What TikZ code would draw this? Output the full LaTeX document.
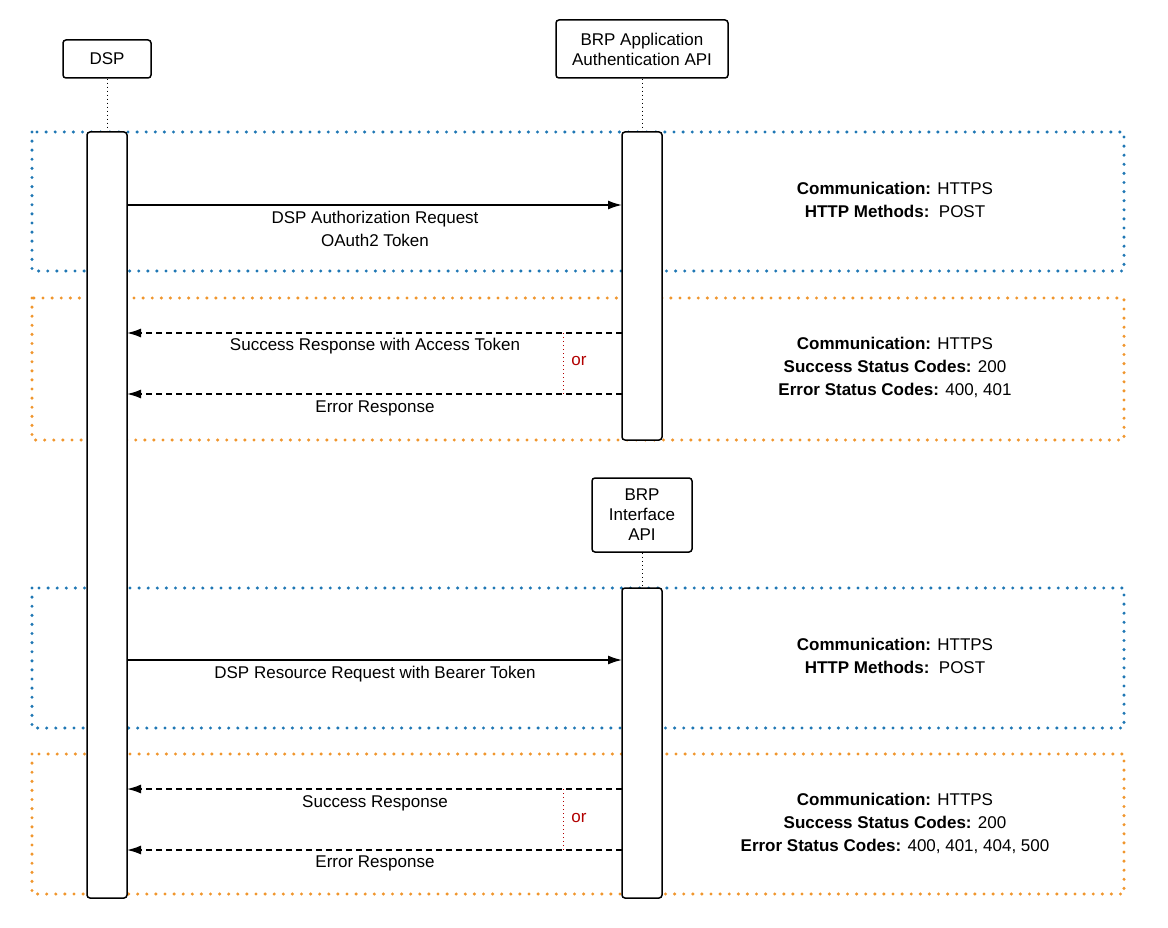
\documentclass[tikz,border=0pt]{standalone}
\usepackage{fontspec}
\setmainfont{Liberation Sans}
\usetikzlibrary{arrows.meta}
\begin{document}
\begin{tikzpicture}[x=1pt,y=-1pt,font=\fontsize{17}{20}\selectfont,
  actor/.style={draw,line width=1.5pt,rounded corners=3pt,align=center,inner sep=0pt},
  bar/.style={draw,line width=1.5pt,rounded corners=3pt,fill=white},
  life/.style={line width=1pt,dash pattern=on 1pt off 3pt},
  frame/.style={line width=3.4pt,line cap=round,dash pattern=on 0pt off 9.1pt},
  msg/.style={line width=1.5pt,-{Latex[length=14pt,width=9pt]}},
  resp/.style={msg,dash pattern=on 6pt off 4pt},
  lbl/.style={inner sep=0pt,align=center},
  ortxt/.style={text=red!70!black,inner sep=0pt},
  orline/.style={red!70!black,line width=0.8pt,dash pattern=on 1pt off 3pt}]
\useasboundingbox (0,0) rectangle (1168,928);
\definecolor{fblue}{HTML}{1F77B4}\definecolor{forange}{HTML}{F0962D}
\draw[frame,fblue] (32,132) rectangle (1124,271);
\draw[frame,forange] (32,298) rectangle (1124,440);
\draw[frame,fblue] (32,588) rectangle (1124,728);
\draw[frame,forange] (32,754) rectangle (1124,894);
\node[actor,minimum width=88pt,minimum height=38pt] (dsp) at (107,59) {DSP};
\node[actor,minimum width=172pt,minimum height=58pt] (auth) at (642,49) {BRP Application\\Authentication API};
\node[actor,minimum width=100pt,minimum height=74pt] (iface) at (642,515) {BRP\\Interface\\API};
\coordinate (dtop) at (107,132);\coordinate (atop) at (642,132);\coordinate (itop) at (642,588);
\draw[life] (dsp.south) -- (dtop);
\draw[life] (auth.south) -- (atop);
\draw[life] (iface.south) -- (itop);
\draw[bar] (87,132) rectangle (127,898);
\draw[bar] (622,132) rectangle (662,440);
\draw[bar] (622,588) rectangle (662,898);
\coordinate (a1) at (127,205);\coordinate (b1) at (622,205);
\draw[msg] (a1) -- (b1);
\node[lbl] at (375,229) {DSP Authorization Request\\[3pt]OAuth2 Token};
\coordinate (a2) at (127,333);\coordinate (b2) at (622,333);
\draw[resp] (b2) -- (a2);
\node[lbl] at (375,346) {Success Response with Access Token};
\coordinate (a3) at (127,394);\coordinate (b3) at (622,394);
\draw[resp] (b3) -- (a3);
\node[lbl] at (375,408) {Error Response};
\coordinate (o1) at (563,333);\coordinate (o2) at (563,394);
\draw[orline] (o1) -- (o2);
\node[ortxt] at (579,361) {or};
\coordinate (a4) at (127,660);\coordinate (b4) at (622,660);
\draw[msg] (a4) -- (b4);
\node[lbl] at (375,674) {DSP Resource Request with Bearer Token};
\coordinate (a5) at (127,789);\coordinate (b5) at (622,789);
\draw[resp] (b5) -- (a5);
\node[lbl] at (375,803) {Success Response};
\coordinate (a6) at (127,850);\coordinate (b6) at (622,850);
\draw[resp] (b6) -- (a6);
\node[lbl] at (375,863) {Error Response};
\coordinate (o3) at (563,789);\coordinate (o4) at (563,850);
\draw[orline] (o3) -- (o4);
\node[ortxt] at (579,818) {or};
\node[lbl] at (895,200) {\textbf{Communication:} HTTPS\\[3pt]\textbf{HTTP Methods:}\ \ POST};
\node[lbl] at (895,367) {\textbf{Communication:} HTTPS\\[3pt]\textbf{Success Status Codes:} 200\\[3pt]\textbf{Error Status Codes:} 400, 401};
\node[lbl] at (895,656) {\textbf{Communication:} HTTPS\\[3pt]\textbf{HTTP Methods:}\ \ POST};
\node[lbl] at (895,823) {\textbf{Communication:} HTTPS\\[3pt]\textbf{Success Status Codes:} 200\\[3pt]\textbf{Error Status Codes:} 400, 401, 404, 500};
\end{tikzpicture}
\end{document}
